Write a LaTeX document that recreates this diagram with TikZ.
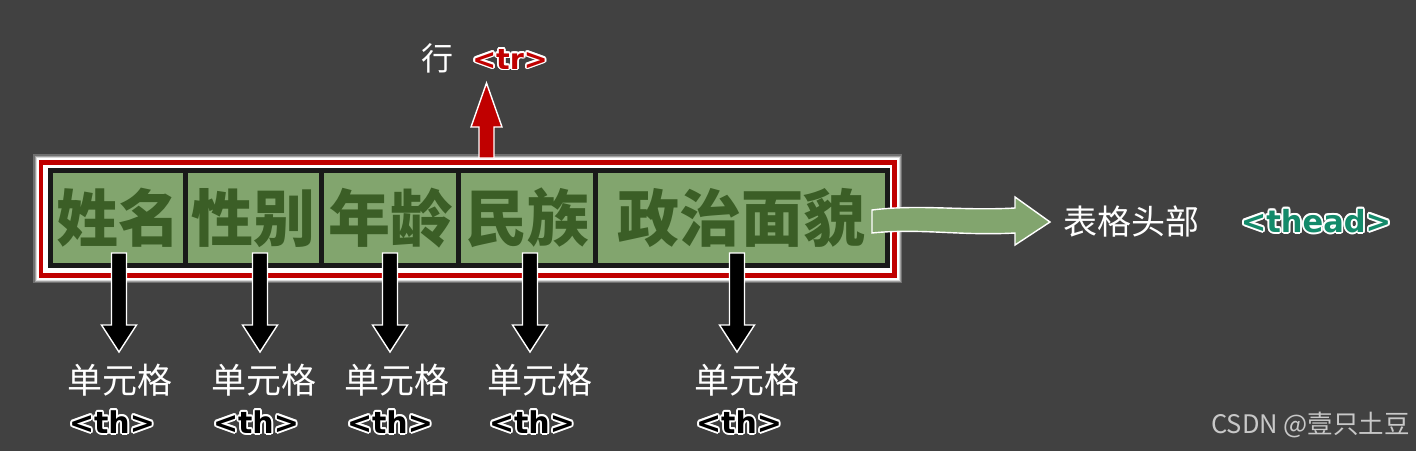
\documentclass[tikz,border=0pt]{standalone}
\usepackage{fontspec}
\usetikzlibrary{calc}
\newfontfamily\cjk{Noto Sans CJK SC}
\newfontfamily\tagf{DejaVu Sans}
\definecolor{bg}{HTML}{414141}
\definecolor{tred}{HTML}{C00000}
\definecolor{cellg}{HTML}{82A56E}
\definecolor{textg}{HTML}{3B5E26}
\definecolor{teal}{HTML}{138A6A}
\definecolor{wm}{HTML}{C8C8C8}
\newcommand\glowtext[5]{%
  \foreach \a in {0,30,...,330}{\node[inner sep=0,text=white,font=#3] at ($(#2)+(\a:1.8)$) {#5};}
  \node[inner sep=0,text=#4,font=#3] (#1) at (#2) {#5};}
\newcommand\downblock[2]{% #1 top coordinate name, #2 tip coordinate name
  \filldraw[fill=black,draw=white,line width=1.4pt,line join=miter]
    ($(#1)+(-7.5,0)$) -- ($(#1)+(7.5,0)$) -- ($(#2)+(7.5,-27)$) -- ($(#2)+(17.5,-27)$)
    -- (#2) -- ($(#2)+(-17.5,-27)$) -- ($(#2)+(-7.5,-27)$) -- cycle;}
\tikzset{
  cell/.style={fill=cellg,inner sep=0,minimum height=90,text=textg,font=\cjk\bfseries\fontsize{62}{62}\selectfont},
  lbl/.style={inner sep=0,text=white,font=\cjk\fontsize{35}{35}\selectfont},
}
\begin{document}
\begin{tikzpicture}[x=1pt,y=-1pt]
\fill[bg] (0,0) rectangle (1416,451);
\useasboundingbox (0,0) rectangle (1416,451);
% frame with soft glow
\fill[white!25!bg] (33,154) rectangle (902,283);
\fill[white!50!bg] (34.5,155.5) rectangle (900.5,281.5);
\fill[white!80!bg] (35.5,156.5) rectangle (899.5,280.5);
\fill[white] (36.5,157.5) rectangle (898.5,279.5);
\fill[tred] (38.5,159.5) rectangle (896.5,277.5);
\fill[white] (43,164.5) rectangle (892,272.5);
\node[fill=black!90,inner sep=0,minimum width=842,minimum height=100] (row) at (469,218) {};
\node[cell,minimum width=130] (c1) at (118,218) {姓名};
\node[cell,minimum width=131] (c2) at (253.5,218) {性别};
\node[cell,minimum width=132] (c3) at (390,218) {年龄};
\node[cell,minimum width=132] (c4) at (527,218) {民族};
\node[cell,minimum width=287] (c5) at (741.5,218) {政治面貌};
% up red arrow
\coordinate (ub) at (486.5,158);
\coordinate (ut) at (486.5,83);
\filldraw[fill=tred,draw=white,line width=1.4pt]
  ($(ub)+(-7.5,0)$) -- ($(ut)+(-7.5,44)$) -- ($(ut)+(-15.5,44)$) -- (ut)
  -- ($(ut)+(15.5,44)$) -- ($(ut)+(7.5,44)$) -- ($(ub)+(7.5,0)$) -- cycle;
\node[inner sep=0,text=white,font=\cjk\fontsize{32}{32}\selectfont] (hang) at (437,58) {行};
\glowtext{tr}{510,59}{\tagf\bfseries\fontsize{28.5}{28.5}\selectfont}{tred}{<tr>}
% green arrow
\coordinate (gs) at (872,221);
\coordinate (gt) at (1050,222);
\filldraw[fill=cellg,draw=white,line width=1.4pt]
  ($(gs)+(0,-11)$) .. controls (920,204) and (960,211) .. (1015,208)
  -- (1015,197) -- (gt) -- (1015,245) -- (1015,233)
  .. controls (960,236) and (920,228) .. ($(gs)+(0,12)$) -- cycle;
\node[inner sep=0,text=white,font=\cjk\fontsize{34}{34}\selectfont,anchor=west] (head) at (1063,222) {表格头部};
\glowtext{thead}{1316,221}{\tagf\bfseries\fontsize{30.5}{30.5}\selectfont}{teal}{<thead>}
% down arrows and labels
\foreach \i/\x/\lx/\tx in {1/119/120/112, 2/260/264/256, 3/390/397/390, 4/530/540/532, 5/737/747/739}{
  \coordinate (a\i) at (\x,253);
  \coordinate (b\i) at (\x,352);
  \downblock{a\i}{b\i}
  \node[lbl] (l\i) at (\lx,380) {单元格};
  \glowtext{th\i}{\tx,422}{\tagf\bfseries\fontsize{30}{30}\selectfont}{black}{<th>}
}
\node[inner sep=0,text=wm,font=\cjk\fontsize{25.5}{25.5}\selectfont,anchor=east] (wmk) at (1410,425) {CSDN @壹只土豆};
\end{tikzpicture}
\end{document}
